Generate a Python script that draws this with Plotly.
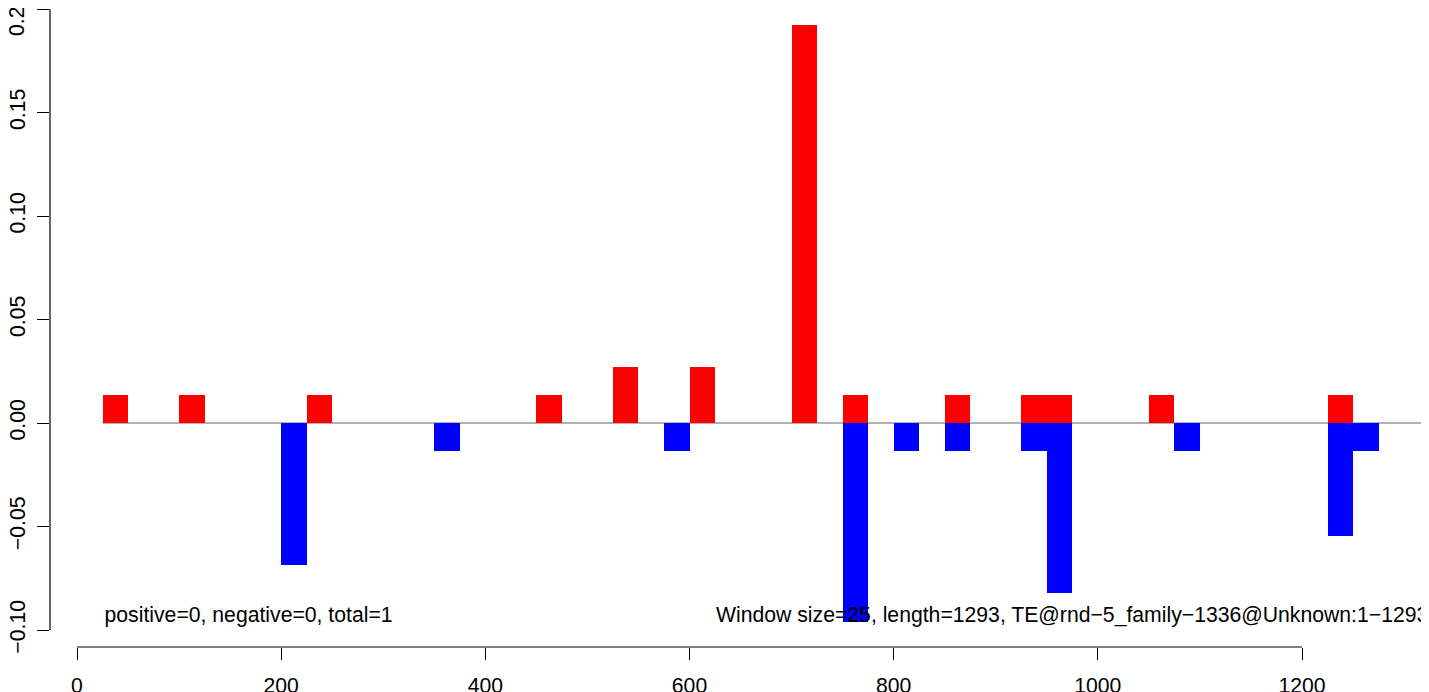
import plotly.graph_objects as go

# ---- data ----
window = 25
seq_length = 1293
pos_start = [25, 100, 225, 450, 525, 600, 700, 750, 850, 925, 950, 1050, 1225]
pos_val = [0.0135, 0.0135, 0.0135, 0.0135, 0.027, 0.027, 0.1923, 0.0135, 0.0135, 0.0135, 0.0135, 0.0135, 0.0135]
neg_start = [200, 350, 575, 750, 800, 850, 925, 950, 1075, 1225, 1250]
neg_val = [-0.0686, -0.0135, -0.0135, -0.0961, -0.0135, -0.0135, -0.0135, -0.0821, -0.0135, -0.0546, -0.0135]

x_ticks = [0, 200, 400, 600, 800, 1000, 1200]
y_ticks = [-0.10, -0.05, 0.00, 0.05, 0.10, 0.15, 0.20]
y_ticktext = ["\u22120.10", "\u22120.05", "0.00", "0.05", "0.10", "0.15", "0.2"]

left_note = "positive=0, negative=0, total=1"
right_note = "Window size=25, length=1293, TE@rnd\u22125_family\u22121336@Unknown:1\u22121293"
note_y = -0.0935
left_note_x = 27
right_note_x = 626

FONT = "Liberation Sans, Arial, Helvetica, sans-serif"
FS = 21.2

fig = go.Figure()
fig.add_trace(go.Bar(
    x=[s + window / 2 for s in pos_start], y=pos_val, width=window,
    marker=dict(color="#FF0000", line=dict(width=0)), showlegend=False, hoverinfo="x+y"))
fig.add_trace(go.Bar(
    x=[s + window / 2 for s in neg_start], y=neg_val, width=window,
    marker=dict(color="#0000FF", line=dict(width=0)), showlegend=False, hoverinfo="x+y"))

fig.add_trace(go.Scatter(x=[left_note_x], y=[note_y], mode="text", text=[left_note],
                         textposition="middle right", textfont=dict(family=FONT, size=FS, color="black"),
                         showlegend=False, hoverinfo="skip"))
fig.add_trace(go.Scatter(x=[right_note_x], y=[note_y], mode="text", text=[right_note],
                         textposition="middle right", textfont=dict(family=FONT, size=FS, color="black"),
                         showlegend=False, hoverinfo="skip"))

# zero reference line (below bars)
fig.add_shape(type="line", xref="x", yref="y", x0=pos_start[0], x1=seq_length + 40, y0=0, y1=0,
              line=dict(color="#666666", width=1), layer="below")
# R-style axis lines spanning first..last tick
fig.add_shape(type="line", xref="x", yref="paper", x0=x_ticks[0], x1=x_ticks[-1], y0=0, y1=0,
              line=dict(color="black", width=1.2))
fig.add_shape(type="line", xref="paper", yref="y", x0=0, x1=0, y0=y_ticks[0], y1=y_ticks[-1],
              line=dict(color="black", width=1.2))

# top tick label, nudged down so it is not clipped at the page top
fig.add_annotation(xref="paper", yref="y", x=0, y=y_ticks[-1], text=y_ticktext[-1],
                   textangle=-90, showarrow=False, xanchor="center", yanchor="middle",
                   xshift=-34, yshift=-13, font=dict(family=FONT, size=FS, color="black"))

# page is offset by the browser's 8px body margin; compensate so the plot lands where the reference has it
px_per_unit_x = 1225 / 1200
px_per_unit_y = 621 / 0.3
y_range = [-0.1 - 17 / px_per_unit_y, 0.2 + 1 / px_per_unit_y]
fig.update_layout(
    width=1429, height=692,
    margin=dict(l=42, r=0, t=0, b=53, pad=0, autoexpand=False),
    paper_bgcolor="white", plot_bgcolor="white",
    barmode="overlay", bargap=0,
    font=dict(family=FONT, size=FS, color="black"),
    xaxis=dict(range=[-27 / px_per_unit_x, 1360 / px_per_unit_x], tickvals=x_ticks,
               ticks="outside", ticklen=12, tickwidth=1.2, tickcolor="black",
               showgrid=False, zeroline=False, showline=False, automargin=False,
               tickfont=dict(family=FONT, size=FS), ticklabelstandoff=8),
    yaxis=dict(range=y_range, tickvals=y_ticks,
               ticktext=y_ticktext[:-1] + [""], tickangle=-90,
               ticks="outside", ticklen=12, tickwidth=1.2, tickcolor="black",
               showgrid=False, zeroline=False, showline=False, automargin=False,
               tickfont=dict(family=FONT, size=FS), ticklabelstandoff=4),
)

fig.write_html("out.html")
